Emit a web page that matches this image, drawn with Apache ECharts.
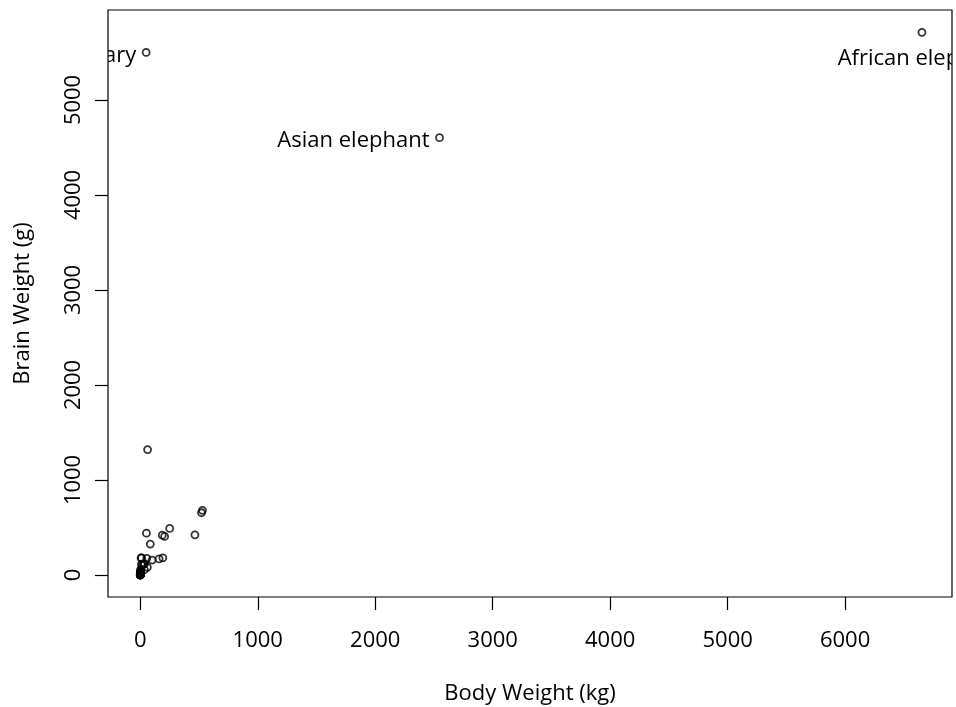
<!DOCTYPE html>
<html>
<head>
<meta charset="utf-8">
<script src="https://cdn.jsdelivr.net/npm/echarts@6/dist/echarts.min.js"></script>
<style>
  html, body { margin: 0; padding: 0; background: #fff; }
  #chart { width: 956px; height: 707px; }
</style>
</head>
<body>
<div id="chart"></div>
<script>
// Mammal body weight (kg) vs brain weight (g)
const names = [
  "Arctic fox", "Owl monkey", "Mountain beaver", "Cow", "Grey wolf", "Goat", "Roe deer",
  "Guinea pig", "Verbet", "Chinchilla", "Ground squirrel", "Arctic ground squirrel",
  "African giant pouched rat", "Lesser short-tailed shrew", "Star-nosed mole",
  "Nine-banded armadillo", "Tree hyrax", "N.A. opossum", "Asian elephant", "Big brown bat",
  "Donkey", "Horse", "European hedgehog", "Patas monkey", "Cat", "Galago", "Genet",
  "Giraffe", "Gorilla", "Grey seal", "Rock hyrax-a", "Human", "African elephant",
  "Water opossum", "Rhesus monkey", "Kangaroo", "Yellow-bellied marmot", "Golden hamster",
  "Mouse", "Little brown bat", "Slow loris", "Okapi", "Rabbit", "Sheep", "Jaguar",
  "Chimpanzee", "Baboon", "Desert hedgehog", "Giant armadillo", "Rock hyrax-b", "Raccoon",
  "Rat", "E. American mole", "Mole rat", "Musk shrew", "Pig", "Echidna", "Brazilian tapir",
  "Tenrec", "Phalanger", "Tree shrew", "Red fox", "Imaginary"
];
const bodyKg = [
  3.385, 0.48, 1.35, 465, 36.33, 27.66, 14.83,
  1.04, 4.19, 0.425, 0.101, 0.92,
  1, 0.005, 0.06,
  3.5, 2, 1.7, 2547, 0.023,
  187.1, 521, 0.785, 10, 3.3, 0.2, 1.41,
  529, 207, 85, 0.75, 62, 6654,
  3.5, 6.8, 35, 4.05, 0.12,
  0.023, 0.01, 1.4, 250, 2.5, 55.5, 100,
  52.16, 10.55, 0.55, 60, 3.6, 4.288,
  0.28, 0.075, 0.122, 0.048, 192, 3, 160,
  0.9, 1.62, 0.104, 4.235, 50
];
const brainG = [
  44.5, 15.5, 8.1, 423, 119.5, 115, 98.2,
  5.5, 58, 6.4, 4, 5.7,
  6.6, 0.14, 1,
  10.8, 12.3, 6.3, 4603, 0.3,
  419, 655, 3.5, 115, 25.6, 5, 17.5,
  680, 406, 325, 12.3, 1320, 5712,
  3.9, 179, 56, 17, 1,
  0.4, 0.25, 12.5, 490, 12.1, 175, 157,
  440, 179.5, 2.4, 81, 21, 39.2,
  1.9, 1.2, 3, 0.33, 180, 25, 169,
  2.6, 11.4, 2.5, 50.4, 5500
];
// Labelled animals and which side of the point the text sits on
const labelled = ["Imaginary", "Asian elephant", "African elephant"];
const labelSide = { "Imaginary": "left", "Asian elephant": "left", "African elephant": "below" };

const xTicks = [0, 1000, 2000, 3000, 4000, 5000, 6000];
const yTicks = [0, 1000, 2000, 3000, 4000, 5000];

const FONT = '"Open Sans", "Noto Sans", sans-serif';
const FS = 22;
const points = bodyKg.map((b, i) => [b, brainG[i]]);
const labelData = labelled.map(n => {
  const i = names.indexOf(n);
  return [bodyKg[i], brainG[i], n];
});
const plain = v => String(v);

const chart = echarts.init(document.getElementById('chart'), null, { renderer: 'canvas' });
chart.setOption({
  animation: false,
  backgroundColor: '#ffffff',
  grid: {
    left: 108, right: 4, top: 10, bottom: 110,
    outerBoundsMode: 'none',
    containLabel: false,
    show: true, borderColor: '#000', borderWidth: 1.2, backgroundColor: 'transparent'
  },
  xAxis: {
    type: 'value', min: -275, max: 6910,
    splitLine: { show: false },
    axisLine: { show: false, onZero: false },
    axisTick: { show: true, length: 13, inside: false, customValues: xTicks, lineStyle: { color: '#000', width: 1.2 } },
    axisLabel: { customValues: xTicks, formatter: plain, margin: 33, color: '#000', fontSize: FS, fontFamily: FONT },
    name: 'Body Weight (kg)', nameLocation: 'middle', nameGap: 86,
    nameTextStyle: { color: '#000', fontSize: FS, fontFamily: FONT }
  },
  yAxis: {
    type: 'value', min: -232, max: 5947,
    splitLine: { show: false },
    axisLine: { show: false, onZero: false },
    axisTick: { show: true, length: 13, inside: false, customValues: yTicks, lineStyle: { color: '#000', width: 1.2 } },
    axisLabel: { customValues: yTicks, formatter: plain, rotate: 90, margin: 23, color: '#000', fontSize: FS, fontFamily: FONT },
    name: 'Brain Weight (g)', nameLocation: 'middle', nameGap: 74,
    nameTextStyle: { color: '#000', fontSize: FS, fontFamily: FONT }
  },
  series: [
    {
      type: 'scatter',
      data: points,
      symbol: 'circle',
      symbolSize: 7,
      itemStyle: { color: 'rgba(0,0,0,0)', borderColor: '#000', borderWidth: 1.8 },
      clip: true
    },
    {
      type: 'custom',
      clip: true,
      data: labelData,
      renderItem: function (params, api) {
        const p = api.coord([api.value(0), api.value(1)]);
        const name = labelData[params.dataIndex][2];
        const side = labelSide[name];
        const style = { text: name, fill: '#000', font: FS + 'px ' + FONT, verticalAlign: 'middle' };
        if (side === 'below') {
          return { type: 'text', x: p[0], y: p[1] + 26, style: Object.assign(style, { align: 'center' }) };
        }
        return { type: 'text', x: p[0] - 10, y: p[1] + 3, style: Object.assign(style, { align: 'right' }) };
      }
    }
  ]
});
</script>
</body>
</html>
